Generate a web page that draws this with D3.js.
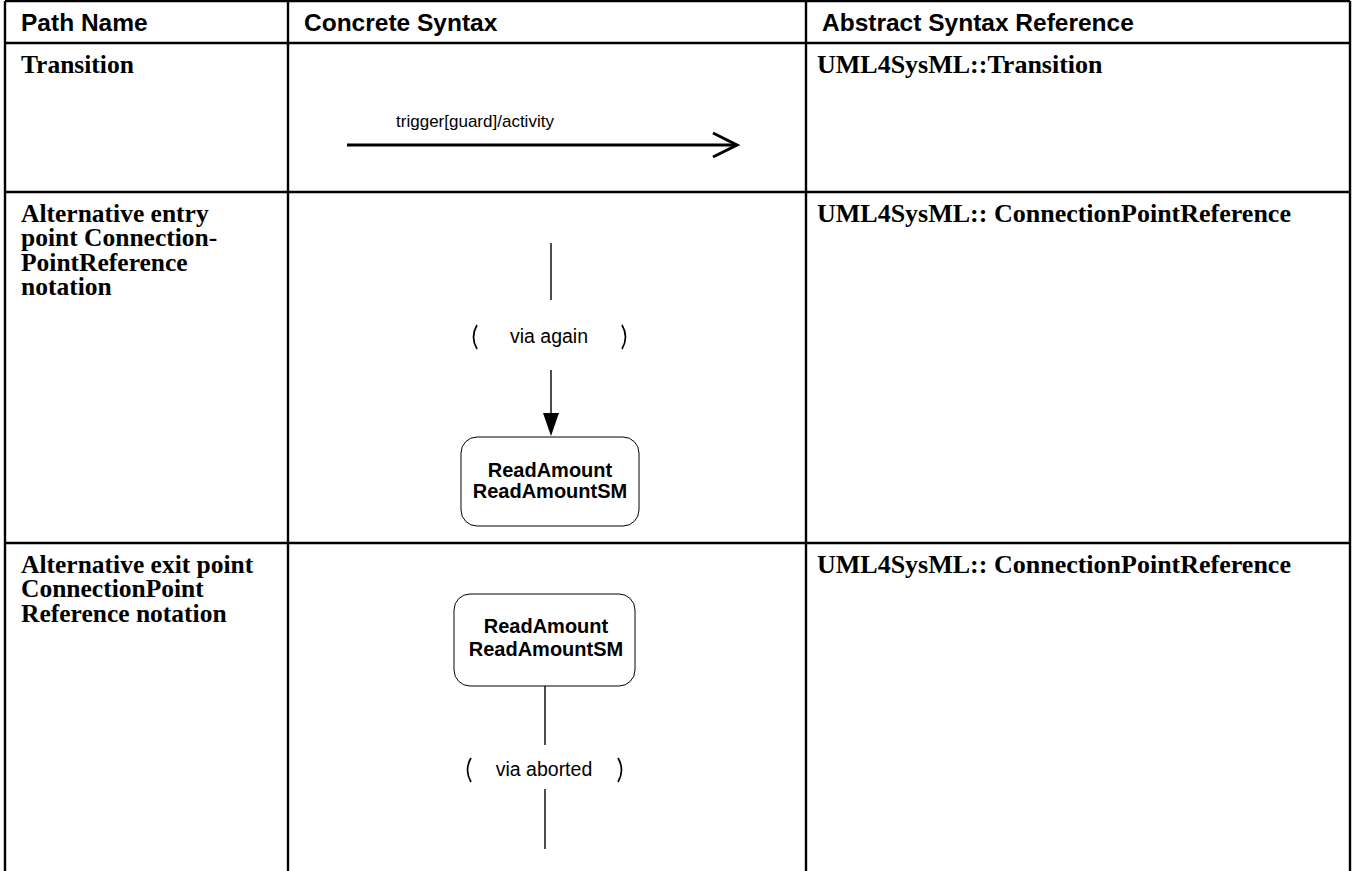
<!DOCTYPE html>
<html><head><meta charset="utf-8">
<script src="https://cdn.jsdelivr.net/npm/d3@7"></script>
<style>html,body{margin:0;padding:0;background:#fff;}svg{display:block;}</style>
</head><body>
<svg id="c" width="1353" height="871"></svg>
<script>
// ---- content ----
const headers = ["Path Name", "Concrete Syntax", "Abstract Syntax Reference"];
const pathNames = [
  ["Transition"],
  ["Alternative entry", "point Connection-", "PointReference", "notation"],
  ["Alternative exit point", "ConnectionPoint", "Reference notation"]
];
const references = ["UML4SysML::Transition", "UML4SysML:: ConnectionPointReference", "UML4SysML:: ConnectionPointReference"];
const transitionLabel = "trigger[guard]/activity";
const viaLabels = ["via again", "via aborted"];
const stateLabels = ["ReadAmount", "ReadAmountSM"];

// ---- layout ----
const colEdges = [5, 288, 806, 1350];
const rowEdges = [1, 43, 192, 543, 871];
const svg = d3.select("#c");
const x = d3.scaleOrdinal().domain(headers).range(colEdges.slice(0, 3));
const rowTop = d3.scaleOrdinal().domain([0,1,2]).range(rowEdges.slice(1, 4));

// grid
const g = svg.append("g").attr("stroke", "#000").attr("stroke-width", 2.4);
g.selectAll("line.v").data(colEdges).join("line")
  .attr("x1", d => d).attr("x2", d => d).attr("y1", rowEdges[0]).attr("y2", 871);
g.selectAll("line.h").data(rowEdges.slice(0, 4)).join("line")
  .attr("x1", colEdges[0]).attr("x2", colEdges[3]).attr("y1", d => d).attr("y2", d => d);

const sans = "Liberation Sans, Arial, sans-serif";
const serif = "Liberation Serif, Times New Roman, serif";

// headers
svg.selectAll("text.hd").data(headers).join("text")
  .attr("x", d => x(d) + 16).attr("y", 30.5)
  .attr("font-family", sans).attr("font-weight", "bold")
  .attr("font-size", 24.5).text(d => d);

// path names
pathNames.forEach((lines, i) => {
  svg.append("text").attr("font-family", serif).attr("font-weight", "bold").attr("font-size", 25.5)
    .selectAll("tspan").data(lines).join("tspan")
    .attr("x", colEdges[0] + 16).attr("y", (d, j) => rowTop(i) + 29.5 + j * 24.5).text(d => d);
});
svg.selectAll("text.ref").data(references).join("text")
  .attr("font-family", serif).attr("font-weight", "bold").attr("font-size", 26)
  .attr("x", colEdges[2] + 11).attr("y", (d, i) => rowTop(i) + 29.5).text(d => d);

// Row 1: transition arrow
svg.append("text").attr("x", 475).attr("y", 127).attr("text-anchor", "middle")
  .attr("font-family", sans).attr("font-size", 17).text(transitionLabel);
svg.append("line").attr("x1", 347).attr("x2", 735).attr("y1", 145).attr("y2", 145)
  .attr("stroke", "#000").attr("stroke-width", 3);
svg.append("path").attr("d", "M713,133 L737,145 L713,157").attr("fill", "none")
  .attr("stroke", "#000").attr("stroke-width", 3);

function paren(cx, cy, dir) {
  // dir -1 = "(" , +1 = ")"
  return `M${cx - dir * 2},${cy - 12} Q${cx + dir * 5},${cy} ${cx - dir * 2},${cy + 12}`;
}
function state(x0, y0, w, h, cx, b1, gap) {
  svg.append("rect").attr("x", x0).attr("y", y0).attr("width", w).attr("height", h)
    .attr("rx", 16).attr("ry", 16).attr("fill", "#fff").attr("stroke", "#000").attr("stroke-width", 1);
  svg.append("text").attr("font-family", sans).attr("font-weight", "bold").attr("font-size", 20)
    .attr("text-anchor", "middle")
    .selectAll("tspan").data(stateLabels).join("tspan")
    .attr("x", cx).attr("y", (d, j) => b1 + j * gap).text(d => d);
}
function via(cx, cy, label, lx, rx) {
  svg.append("path").attr("d", paren(lx, cy, -1)).attr("fill", "none").attr("stroke", "#000").attr("stroke-width", 1.7);
  svg.append("path").attr("d", paren(rx, cy, 1)).attr("fill", "none").attr("stroke", "#000").attr("stroke-width", 1.7);
  svg.append("text").attr("x", cx).attr("y", cy + 6).attr("text-anchor", "middle")
    .attr("font-family", sans).attr("font-size", 19.5).text(label);
}

// Row 2: entry point
svg.append("line").attr("x1", 551).attr("x2", 551).attr("y1", 243).attr("y2", 300).attr("stroke", "#000").attr("stroke-width", 1.4);
via(549, 337, viaLabels[0], 475, 624);
svg.append("line").attr("x1", 551).attr("x2", 551).attr("y1", 370).attr("y2", 415).attr("stroke", "#000").attr("stroke-width", 1.4);
svg.append("path").attr("d", "M543,413 L559,413 L551,436 Z").attr("fill", "#000");
state(461, 437, 178, 89, 550, 477, 21);

// Row 3: exit point
state(454, 594, 181, 92, 546, 633, 23);
svg.append("line").attr("x1", 545).attr("x2", 545).attr("y1", 686).attr("y2", 745).attr("stroke", "#000").attr("stroke-width", 1.4);
via(544, 770, viaLabels[1], 469, 620);
svg.append("line").attr("x1", 545).attr("x2", 545).attr("y1", 789).attr("y2", 849).attr("stroke", "#000").attr("stroke-width", 1.4);
</script>
</body></html>
